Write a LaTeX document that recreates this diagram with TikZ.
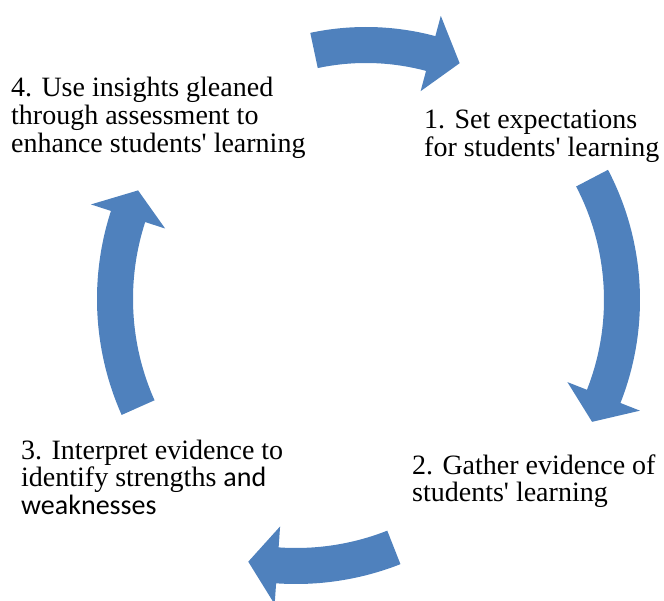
\documentclass[tikz,border=0pt]{standalone}
\usepackage{fontspec}
\setmainfont{Liberation Serif}[Ligatures=TeXOff]
\newfontfamily\calibrifont{Carlito}
\usetikzlibrary{calc}
\definecolor{cycleblue}{RGB}{79,129,189}
\tikzset{
  cyclelabel/.style={anchor=base west,inner sep=0pt,align=left,font=\fontsize{28}{28}\selectfont},
  arrowbody/.style={fill=cycleblue,draw=none}
}
% curved block arrow: centre, radius, tail angle, head angle, tip angle
\newcommand{\cyclearrow}[5]{%
  \path[arrowbody] ($(#1)+(#3:#2-18)$) arc[start angle=#3,end angle=#4,radius=#2-18]
    -- ($(#1)+(#4:#2-39)$) -- ($(#1)+(#5:#2)$) -- ($(#1)+(#4:#2+39)$)
    -- ($(#1)+(#4:#2+18)$) arc[start angle=#4,end angle=#3,radius=#2+18] -- cycle;}

\begin{document}
\begin{tikzpicture}[x=1pt,y=1pt]
\useasboundingbox (0,0) rectangle (664,600);

% arrows
\cyclearrow{366,305}{250}{102}{75}{68}
\cyclearrow{359,300}{263}{27.6}{-21.5}{-27.6}
\cyclearrow{296,301}{267}{-68.5}{-94}{-100.3}
\cyclearrow{382,301}{267}{204}{162}{156}

% labels (anchored at the last line)
\node[cyclelabel] (expect) at (424,443) {1. Set expectations\\for students' learning};
\node[cyclelabel] (gather) at (412,98) {2. Gather evidence of\\students' learning};
\node[cyclelabel] (interpret) at (21,85) {3. Interpret evidence to\\identify strengths {\calibrifont and}\\{\calibrifont weaknesses}};
\node[cyclelabel] (insight) at (11,447) {4. Use insights gleaned\\through assessment to\\enhance students' learning};

\end{tikzpicture}
\end{document}
